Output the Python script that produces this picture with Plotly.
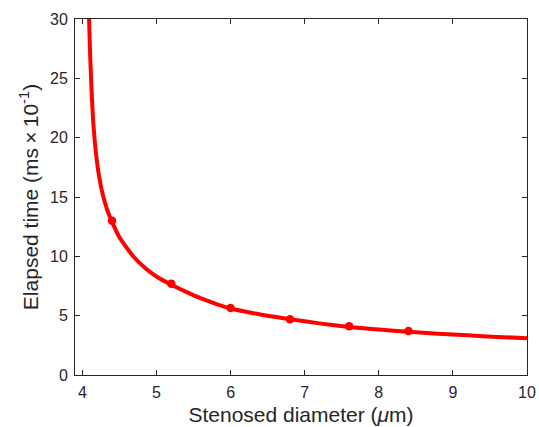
import plotly.graph_objects as go

# Fitted curve
curve_x = [4.09, 4.10, 4.12, 4.15, 4.20, 4.26, 4.33, 4.40, 4.50, 4.60, 4.70, 4.85,
           5.00, 5.20, 5.40, 5.60, 5.80, 6.00, 6.40, 6.80, 7.20, 7.60, 8.00, 8.40,
           8.80, 9.20, 9.60, 10.0]
curve_y = [30.0, 27.8, 24.5, 21.0, 17.8, 15.6, 14.0, 12.9, 11.6, 10.7, 9.9, 9.0,
           8.3, 7.6, 7.0, 6.45, 6.0, 5.6, 5.1, 4.7, 4.35, 4.05, 3.83, 3.65,
           3.48, 3.34, 3.21, 3.1]

# Measured points
diam = [4.4, 5.2, 6.0, 6.8, 7.6, 8.4]
elapsed = [13.0, 7.7, 5.65, 4.7, 4.1, 3.7]

x_ticks = [4, 5, 6, 7, 8, 9, 10]
y_ticks = [0, 5, 10, 15, 20, 25, 30]

fig = go.Figure()
fig.add_trace(go.Scatter(x=curve_x, y=curve_y, mode="lines",
                         line=dict(color="#ff0000", width=4, shape="spline", smoothing=0.6),
                         hoverinfo="skip", showlegend=False))
fig.add_trace(go.Scatter(x=diam, y=elapsed, mode="markers",
                         marker=dict(color="#ff0000", size=8.5), showlegend=False))

axis_common = dict(showgrid=False, zeroline=False, showline=True, linecolor="#262626",
                   linewidth=1, mirror="ticks", ticks="inside", ticklen=5,
                   tickcolor="#262626", tickfont=dict(size=16, color="#262626"),
                   automargin=False, ticklabelstandoff=3)

fig.update_layout(
    width=539, height=427,
    margin=dict(l=75, r=12, t=19, b=52),
    paper_bgcolor="white", plot_bgcolor="white",
    font=dict(family="Liberation Sans, Arial, sans-serif", color="#262626"),
    xaxis=dict(range=[3.9, 10], tickvals=x_ticks,
               title=dict(text="Stenosed diameter (<i>μ</i>m)", font=dict(size=21), standoff=7),
               **axis_common),
    yaxis=dict(range=[0, 30], tickvals=y_ticks,
               title=dict(text="Elapsed time (ms\u2009×\u200910<sup>-1</sup>)", font=dict(size=21), standoff=5),
               **axis_common),
)

fig.write_html("out.html", config={"displayModeBar": False},
               post_script="document.body.style.margin='0';")
